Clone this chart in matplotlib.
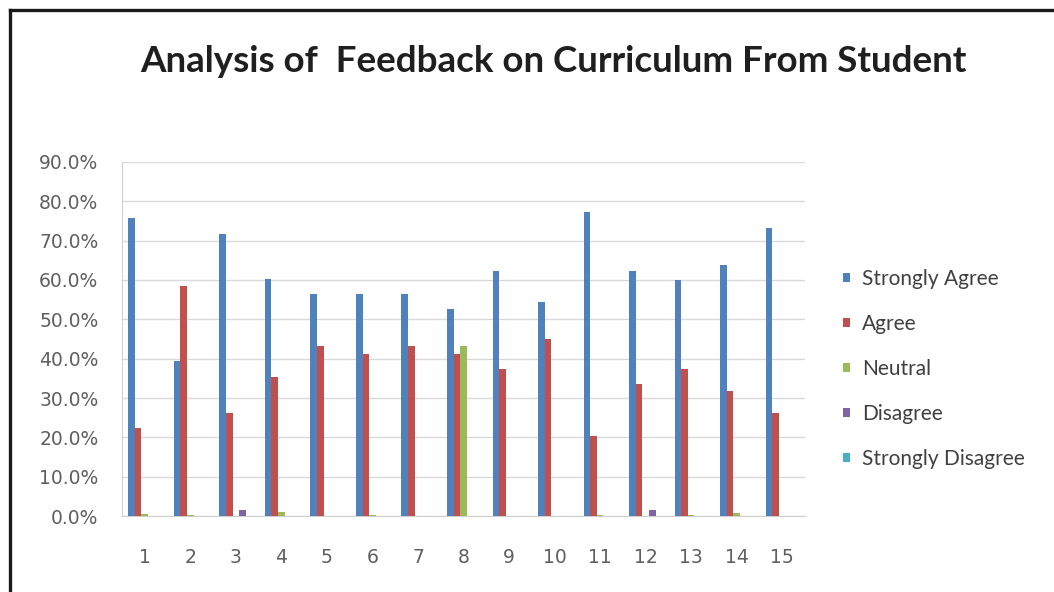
import matplotlib as mpl
mpl.use("Agg")
import matplotlib.pyplot as plt
from matplotlib.lines import Line2D
from matplotlib.ticker import PercentFormatter
import numpy as np

# --- values (percent) ---
questions = [str(i) for i in range(1, 16)]
series = ["Strongly Agree", "Agree", "Neutral", "Disagree", "Strongly Disagree"]
strongly_agree = [75.8, 39.3, 71.8, 60.2, 56.5, 56.5, 56.5, 52.6, 62.3, 54.3,
                  77.3, 62.3, 59.9, 63.9, 73.3]
agree = [22.5, 58.6, 26.2, 35.4, 43.3, 41.2, 43.3, 41.2, 37.4, 45.0,
         20.4, 33.6, 37.4, 31.7, 26.1]
neutral = [0.4, 0.3, 0.0, 1.0, 0.0, 0.3, 0.0, 43.2, 0.0, 0.0,
           0.3, 0.0, 0.3, 0.8, 0.0]
disagree = [0.0, 0.0, 1.5, 0.0, 0.0, 0.0, 0.0, 0.0, 0.0, 0.0,
            0.0, 1.4, 0.0, 0.0, 0.0]
strongly_disagree = [0.0] * 15

# Excel 2007 default palette
COLORS = ["#4F81BD", "#C0504D", "#9BBB59", "#8064A2", "#4BACC6"]

plt.rcParams["font.family"] = ["Lato", "DejaVu Sans"]

fig = plt.figure(figsize=(10.54, 5.92), dpi=100)
ax = fig.add_axes([122 / 1054, 1 - 516 / 592, 683 / 1054, 354 / 592])

x = np.arange(len(questions))
w = 0.145
values = [strongly_agree, agree, neutral, disagree, strongly_disagree]
for i, (name, vals, c) in enumerate(zip(series, values, COLORS)):
    ax.bar(x + (i - 2) * w, vals, width=w, color=c, label=name, zorder=3)

ax.set_xlim(-0.5, len(questions) - 0.5)
ax.set_ylim(0, 90)
ax.set_yticks(np.arange(0, 91, 10))
ax.yaxis.set_major_formatter(PercentFormatter(decimals=1))
ax.set_xticks(x)
ax.set_xticklabels(questions)
ax.tick_params(axis="both", length=0, labelcolor="#5f5f5f")
for lab in ax.get_xticklabels() + ax.get_yticklabels():
    lab.set_fontfamily("DejaVu Sans")
    lab.set_fontsize(13.5)
ax.tick_params(axis="y", pad=17)
ax.tick_params(axis="x", pad=23)
ax.grid(axis="y", color="#d9d9d9", lw=1, zorder=0)
for s in ("top", "right"):
    ax.spines[s].set_visible(False)
for s in ("left", "bottom"):
    ax.spines[s].set_color("#d0d0d0")

handles, labels = ax.get_legend_handles_labels()
fig.legend(handles, labels, loc="upper left", bbox_to_anchor=(843 / 1054, 1 - 269 / 592),
           frameon=False, fontsize=15, handlelength=0.35, handleheight=0.35,
           handletextpad=0.55, labelspacing=1.2, borderpad=0, borderaxespad=0,
           labelcolor="#404040")

fig.text(553 / 1054, 1 - 62 / 592, "Analysis of  Feedback on Curriculum From Student",
         ha="center", va="center", fontsize=26.5, fontweight="bold", color="#1f1f1f")

# dark frame on the left and top edges
fig.add_artist(Line2D([10 / 1054, 10 / 1054], [0, 1 - 10 / 592], color="#1a1a1a", lw=2.4,
                      transform=fig.transFigure))
fig.add_artist(Line2D([10 / 1054, 1], [1 - 10 / 592, 1 - 10 / 592], color="#1a1a1a", lw=2.4,
                      transform=fig.transFigure))

fig.savefig("out.png", dpi=100)
